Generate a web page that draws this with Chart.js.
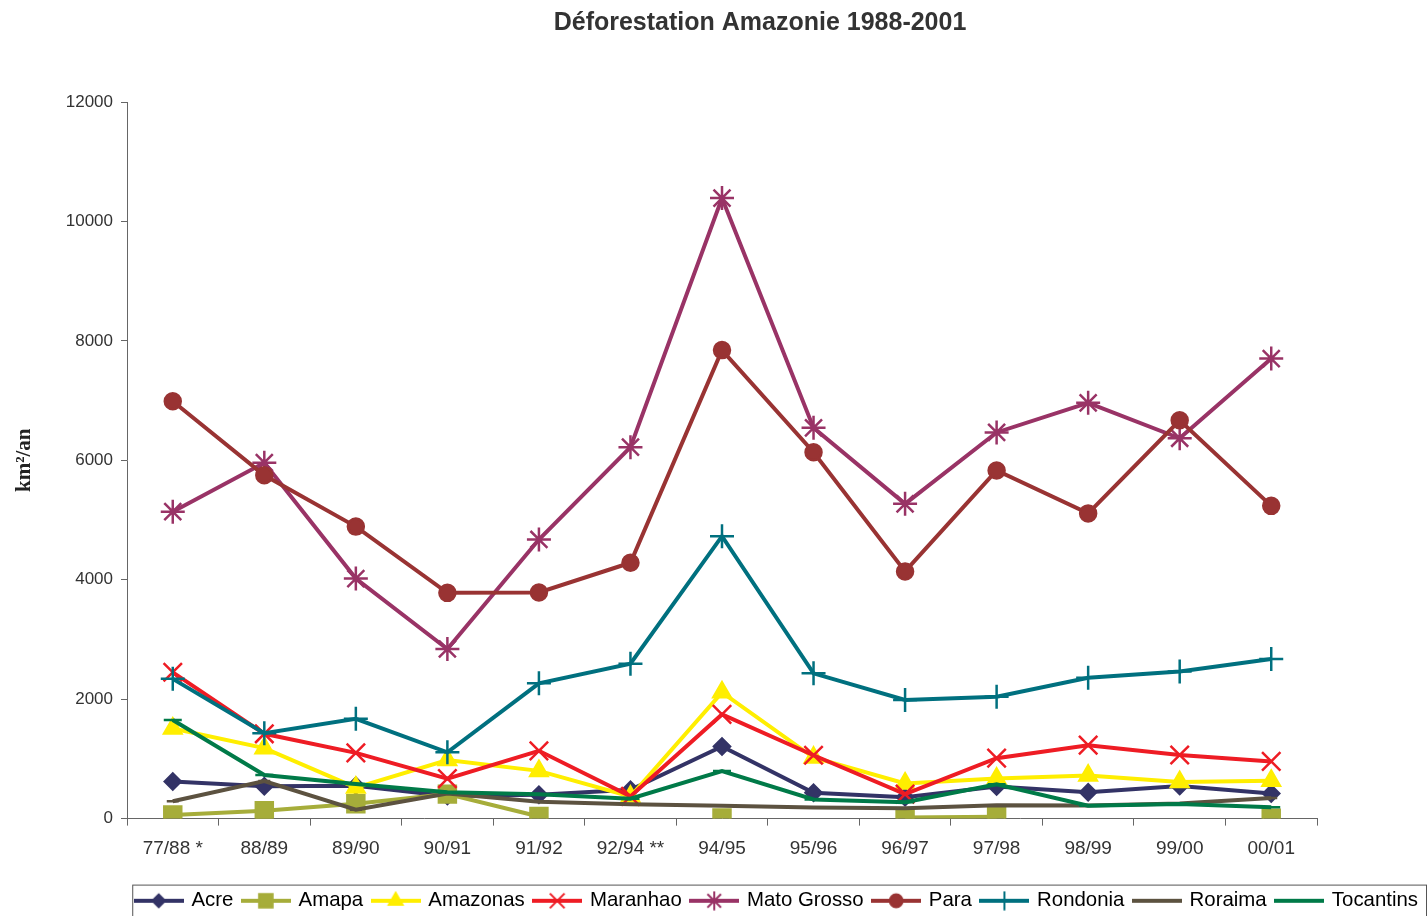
<!DOCTYPE html>
<html>
<head>
<meta charset="utf-8">
<title>Déforestation Amazonie 1988-2001</title>
<script src="https://cdn.jsdelivr.net/npm/chart.js@4.4.1/dist/chart.umd.min.js"></script>
<style>
  html, body { margin: 0; padding: 0; background: #fff; }
  #wrap { width: 1428px; height: 916px; }
</style>
</head>
<body>
<div id="wrap"><canvas id="chart"></canvas></div>
<script>
// ==== Data (km²/an) ====
const periods = ['77/88 *', '88/89', '89/90', '90/91', '91/92', '92/94 **', '94/95', '95/96', '96/97', '97/98', '98/99', '99/00', '00/01'];
const yTicks = [0, 2000, 4000, 6000, 8000, 10000, 12000];

const acre       = [620, 540, 550, 380, 400, 482, 1208, 433, 358, 536, 441, 547, 419];
const amapa      = [60, 130, 250, 410, 36, null, 9, null, 18, 30, null, null, 7];
const amazonas   = [1510, 1180, 520, 980, 799, 370, 2114, 1023, 589, 670, 720, 612, 634];
const maranhao   = [2450, 1420, 1100, 670, 1135, 372, 1745, 1061, 409, 1012, 1230, 1065, 958];
const matoGrosso = [5140, 5960, 4020, 2840, 4674, 6220, 10391, 6543, 5271, 6466, 6963, 6369, 7703];
const para       = [6990, 5750, 4890, 3780, 3787, 4284, 7845, 6135, 4139, 5829, 5111, 6671, 5237];
const rondonia   = [2340, 1430, 1670, 1110, 2265, 2595, 4730, 2432, 1986, 2041, 2358, 2465, 2673];
const roraima    = [290, 630, 150, 420, 281, 240, 214, 184, 175, 223, 220, 253, 345];
const tocantins  = [1650, 730, 580, 440, 409, 333, 797, 320, 273, 576, 216, 244, 189];

// ==== Series look ====
function series(label, data, color, style, radius) {
  return {
    label: label,
    data: data,
    borderColor: color,
    backgroundColor: color,
    borderWidth: 4,
    pointStyle: style,
    pointRadius: radius,
    pointHoverRadius: radius,
    pointBorderWidth: 2.5,
    pointBorderColor: color,
    pointBackgroundColor: color,
    tension: 0,
    spanGaps: false
  };
}

const datasets = [
  series('Acre', acre, '#333366', 'rectRot', 8),
  series('Amapa', amapa, '#a6ad3a', 'rect', 12),
  series('Amazonas', amazonas, '#ffee00', 'triangle', 10),
  series('Maranhao', maranhao, '#ee1c24', 'crossRot', 13),
  series('Mato Grosso', matoGrosso, '#993366', 'star', 12),
  series('Para', para, '#993333', 'circle', 8),
  series('Rondonia', rondonia, '#00707f', 'cross', 12),
  series('Roraima', roraima, '#5c5240', 'line', 6),
  series('Tocantins', tocantins, '#007a48', 'line', 9)
];
// later series painted on top, like the original
datasets.forEach((d, i) => { d.order = datasets.length - i; });

// little line+marker pictures for the legend
function legendIcon(ds) {
  const c = document.createElement('canvas');
  c.width = 50; c.height = 20;
  const g = c.getContext('2d');
  g.strokeStyle = ds.borderColor;
  g.lineWidth = 4;
  g.beginPath(); g.moveTo(0, 10); g.lineTo(50, 10); g.stroke();
  if (ds.label !== 'Roraima' && ds.label !== 'Tocantins') {
    g.fillStyle = ds.borderColor;
    g.lineWidth = 2;
    Chart.helpers.drawPoint(g, { pointStyle: ds.pointStyle, radius: ds.pointRadius * 0.8, rotation: 0, borderWidth: 2 }, 25, 10);
  }
  return c;
}

// nudge title and legend to where the original has them, and frame the legend
const placeBlocks = {
  id: 'placeBlocks',
  afterLayout(chart) {
    chart.titleBlock.left = 92;
    chart.titleBlock.right = 1428;
    chart.legend.top += 5;
    chart.legend.bottom += 5;
  },
  afterDraw(chart) {
    const boxes = chart.legend.legendHitBoxes;
    if (!boxes || !boxes.length) return;
    const ctx = chart.ctx;
    const left = boxes[0].left - 4;
    const top = boxes[0].top - 6;
    ctx.save();
    ctx.strokeStyle = '#555';
    ctx.lineWidth = 1;
    ctx.strokeRect(left + 0.5, top + 0.5, 1426 - left, 60);
    ctx.restore();
  }
};

const ctx = document.getElementById('chart');
new Chart(ctx, {
  type: 'line',
  data: { labels: periods, datasets: datasets },
  plugins: [placeBlocks],
  options: {
    responsive: true,
    maintainAspectRatio: false,
    animation: false,
    layout: { padding: 0 },
    plugins: {
      title: {
        display: true,
        text: 'Déforestation Amazonie 1988-2001',
        color: '#333',
        font: { family: 'Liberation Sans, Arial', size: 25, weight: 'bold' },
        padding: { top: 8, bottom: 64 }
      },
      legend: {
        position: 'bottom',
        align: 'end',
        labels: {
          usePointStyle: true,
          pointStyleWidth: 45,
          padding: 10,
          color: '#333',
          font: { family: 'Liberation Sans, Arial', size: 20.4 },
          generateLabels: (chart) => chart.data.datasets.map((ds, i) => ({
            text: ds.label,
            pointStyle: legendIcon(ds),
            fillStyle: ds.borderColor,
            strokeStyle: ds.borderColor,
            lineWidth: 0,
            hidden: false,
            datasetIndex: i
          }))
        }
      },
      tooltip: { enabled: false }
    },
    scales: {
      x: {
        offset: true,
        grid: { display: true, drawOnChartArea: false, offset: true, color: '#666', tickLength: 7 },
        border: { color: '#666', width: 1 },
        ticks: { color: '#333', font: { family: 'Liberation Sans, Arial', size: 19 }, padding: 12, maxRotation: 0, autoSkip: false },
        afterFit: (s) => { s.height = 57; }
      },
      y: {
        min: 0,
        max: 12000,
        afterBuildTicks: (s) => { s.ticks = yTicks.map(v => ({ value: v })); },
        grid: { display: true, drawOnChartArea: false, color: '#666', tickLength: 6 },
        border: { color: '#666', width: 1 },
        ticks: { color: '#333', font: { family: 'Liberation Sans, Arial', size: 17 }, padding: 8, callback: (v) => String(v) },
        title: {
          display: true,
          text: 'km²/an',
          color: '#222',
          font: { family: 'Liberation Serif, Times New Roman', size: 21, weight: 'bold' },
          padding: { top: 12, bottom: 0 }
        },
        afterFit: (s) => { s.width = 127; }
      },
      yRight: {
        position: 'right',
        display: true,
        grid: { display: false },
        border: { display: false },
        ticks: { display: false },
        afterFit: (s) => { s.width = 111; }
      }
    }
  }
});
</script>
</body>
</html>
